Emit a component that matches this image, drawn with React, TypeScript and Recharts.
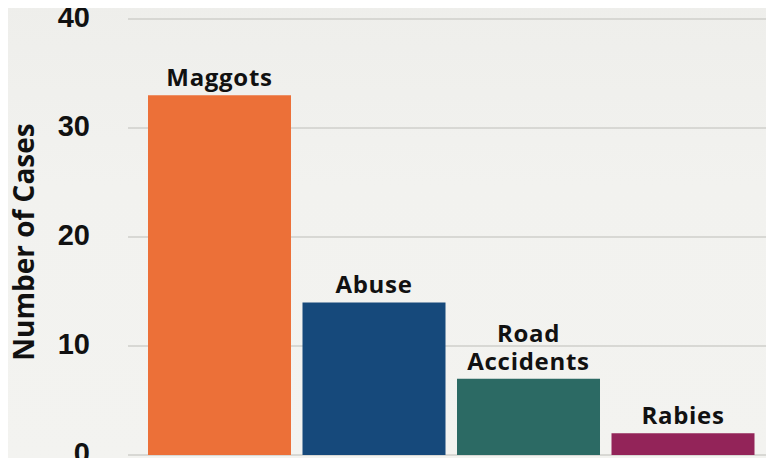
import React from 'react';
import { BarChart, Bar, XAxis, YAxis, CartesianGrid, Cell, LabelList, Label } from 'recharts';

const categories = ['Maggots', 'Abuse', 'Road Accidents', 'Rabies'];
const cases = [33, 14, 7, 2];
const barColors = ['#EC7038', '#16497B', '#2C6A64', '#932459'];
const yTicks = [0, 10, 20, 30, 40];

const data = categories.map((name, i) => ({ name, cases: cases[i] }));

const BarLabel = (props: any) => {
  const { x, y, width, value } = props;
  const text = String(value);
  const lines = text.length > 10 ? text.split(' ') : [text];
  const cx = x + width / 2;
  const lh = 28;
  const base = y - 9;
  return (
    <text
      x={cx}
      y={base - (lines.length - 1) * lh}
      textAnchor="middle"
      fontFamily="'Open Sans', 'Noto Sans', sans-serif"
      fontWeight={700}
      fontSize={24}
      letterSpacing={0.7}
      fill="#111"
    >
      {lines.map((l, i) => (
        <tspan key={i} x={cx} dy={i === 0 ? 0 : lh}>
          {l}
        </tspan>
      ))}
    </text>
  );
};

const YTick = (props: any) => {
  const { x, y, payload } = props;
  return (
    <text
      x={x}
      y={y + 8}
      textAnchor="end"
      fill="#111"
      fontSize={29}
      fontWeight={700}
      fontFamily="'Liberation Sans', Arial, sans-serif"
    >
      {payload.value}
    </text>
  );
};

const AxisTitle = (props: any) => {
  const vb = props.viewBox || { x: 0, y: 0, height: 0 };
  const cx = vb.x + 23;
  const cy = vb.y + vb.height / 2 + 5;
  return (
    <text
      x={cx}
      y={cy}
      transform={`rotate(-90 ${cx} ${cy})`}
      textAnchor="middle"
      dominantBaseline="central"
      fontFamily="'Open Sans', 'Noto Sans', sans-serif"
      fontWeight={700}
      fontSize={28}
      fill="#111"
    >
      Number of Cases
    </text>
  );
};

export default function App() {
  return (
    <div style={{ margin: -8, width: 774, height: 466, background: 'linear-gradient(180deg, #EEEEEB 0%, #F2F2EF 40%, #F3F3F0 100%)' }}>
      <BarChart
        width={774}
        height={466}
        data={data}
        margin={{ top: 19, right: 0, left: 0, bottom: 11 }}
        barCategoryGap={6}
      >
        <CartesianGrid vertical={false} stroke="#CFCFCB" strokeWidth={1.5} />
        <XAxis
          dataKey="name"
          height={0}
          tick={false}
          tickLine={false}
          axisLine={{ stroke: '#4A4A4A', strokeWidth: 2 }}
          padding={{ left: 14, right: 14 }}
        />
        <YAxis
          width={128}
          domain={[0, 40]}
          ticks={yTicks}
          interval={0}
          tickLine={false}
          axisLine={false}
          tickSize={0}
          tickMargin={38}
          tick={<YTick />}
        >
          <Label content={<AxisTitle />} position="insideLeft" />
        </YAxis>
        <Bar dataKey="cases" isAnimationActive={false}>
          {data.map((d, i) => (
            <Cell key={d.name} fill={barColors[i]} />
          ))}
          <LabelList dataKey="name" content={<BarLabel />} />
        </Bar>
      </BarChart>
    </div>
  );
}
